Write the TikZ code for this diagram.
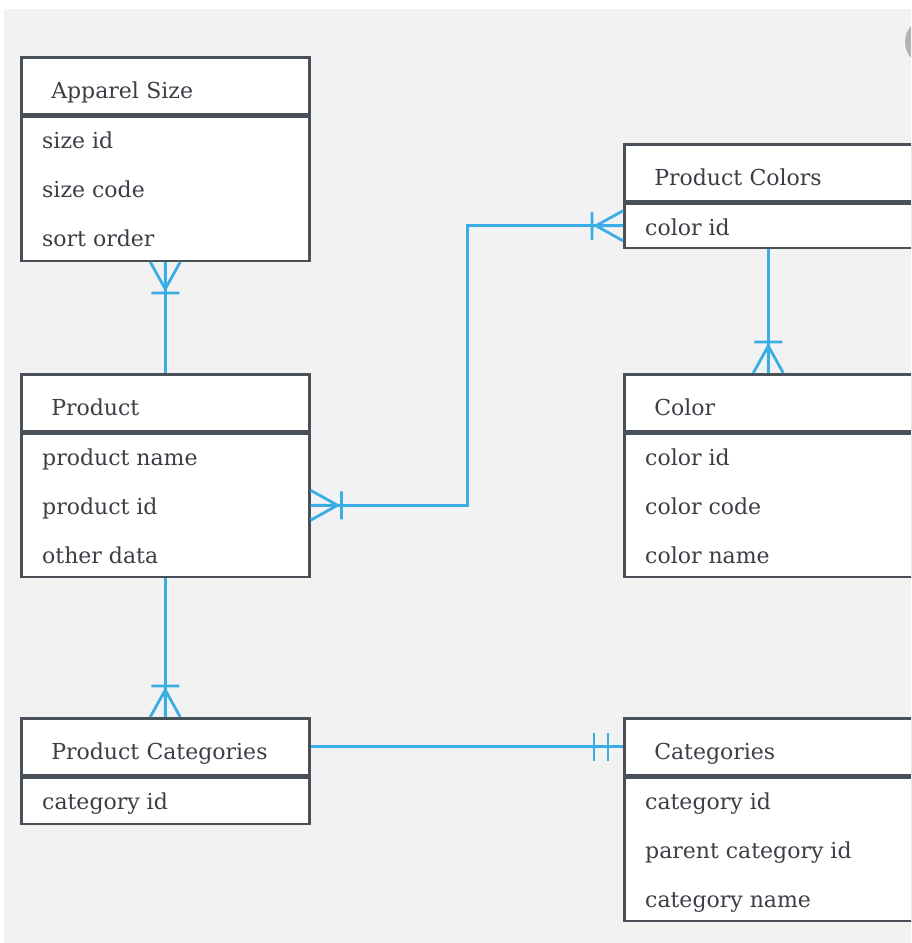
\documentclass[tikz,border=0pt]{standalone}
\usepackage{fontspec}
\setmainfont{DejaVu Serif}
\usetikzlibrary{positioning}
\definecolor{erblue}{HTML}{3AAEE4}
\definecolor{erborder}{HTML}{4A5058}
\definecolor{ertext}{HTML}{3A3F46}
\definecolor{erback}{HTML}{F2F2F2}
\tikzset{
	hdr/.style   = {shape=rectangle, draw=erborder, line width=2.5pt, fill=white,
		anchor=north west, inner xsep=30pt, inner ysep=0pt, text width=228pt,
		text height=41pt, text depth=16pt, align=left,
		font=\fontsize{22}{26}\selectfont, text=ertext},
	body/.style  = {shape=rectangle, draw=erborder, line width=2.5pt, fill=white,
		minimum width=288pt, inner sep=0pt},
	field/.style = {anchor=base west, inner sep=0pt,
		font=\fontsize{22}{26}\selectfont, text=ertext},
	erline/.style = {draw=erblue, line width=2.8pt},
	crowfoot/.pic = {\draw[erline] (0,-15pt) -- (27pt,0) -- (0,15pt)
		(0,0) -- (31pt,0) (31pt,-14pt) -- (31pt,14pt);},
	twobars/.pic  = {\draw[erline] (15pt,-14pt) -- (15pt,14pt)
		(29pt,-14pt) -- (29pt,14pt);},
}

\begin{document}
\begin{tikzpicture}[x=1pt, y=-1pt, node distance=0pt]
\useasboundingbox (0,0) rectangle (911,943);
\clip (0,0) rectangle (911,943);
\fill[white] (0,0) rectangle (911,943);
\fill[erback] (4,9) rectangle (911,943);
\fill[gray!60] (929,42) circle (24pt);

% left column
\node[hdr] (size) at (20,56) {Apparel Size};
\node[body, minimum height=144pt, below=of size] (size-b) {};
\foreach \t [count=\i] in {size id, size code, sort order}
	\node[field] (size-\i) at ([xshift=22pt, yshift={-33pt-(\i-1)*49pt}]size-b.north west) {\t};

\node[hdr] (prod) at (20,373) {Product};
\node[body, minimum height=143pt, below=of prod] (prod-b) {};
\foreach \t [count=\i] in {product name, product id, other data}
	\node[field] (prod-\i) at ([xshift=22pt, yshift={-33pt-(\i-1)*49pt}]prod-b.north west) {\t};

\node[hdr] (pcat) at (20,717) {Product Categories};
\node[body, minimum height=46pt, below=of pcat] (pcat-b) {};
\node[field] (pcat-1) at ([xshift=22pt, yshift=-33pt]pcat-b.north west) {category id};

% right column
\node[hdr] (pcol) at (623,143) {Product Colors};
\node[body, minimum height=44pt, below=of pcol] (pcol-b) {};
\node[field] (pcol-1) at ([xshift=22pt, yshift=-33pt]pcol-b.north west) {color id};

\node[hdr] (color) at (623,373) {Color};
\node[body, minimum height=143pt, below=of color] (color-b) {};
\foreach \t [count=\i] in {color id, color code, color name}
	\node[field] (color-\i) at ([xshift=22pt, yshift={-33pt-(\i-1)*49pt}]color-b.north west) {\t};

\node[hdr] (cat) at (623,717) {Categories};
\node[body, minimum height=143pt, below=of cat] (cat-b) {};
\foreach \t [count=\i] in {category id, parent category id, category name}
	\node[field] (cat-\i) at ([xshift=22pt, yshift={-33pt-(\i-1)*49pt}]cat-b.north west) {\t};

% relations
\path[erline] (size-b.south) -- (prod.north);
\pic[rotate=-90] at (size-b.south) {crowfoot};

\path[erline] (prod-b.east) -- ++(157pt,0) |- (pcol-b.west);
\pic at (prod-b.east) {crowfoot};
\pic[rotate=180] at (pcol-b.west) {crowfoot};

\path[erline] (pcol-b.south) -- (color.north);
\pic[rotate=90] at (color.north) {crowfoot};

\path[erline] (prod-b.south) -- (pcat.north);
\pic[rotate=90] at (pcat.north) {crowfoot};

\path[erline] (pcat.east) -- (cat.west);
\pic[rotate=180] at (cat.west) {twobars};
\end{tikzpicture}
\end{document}
